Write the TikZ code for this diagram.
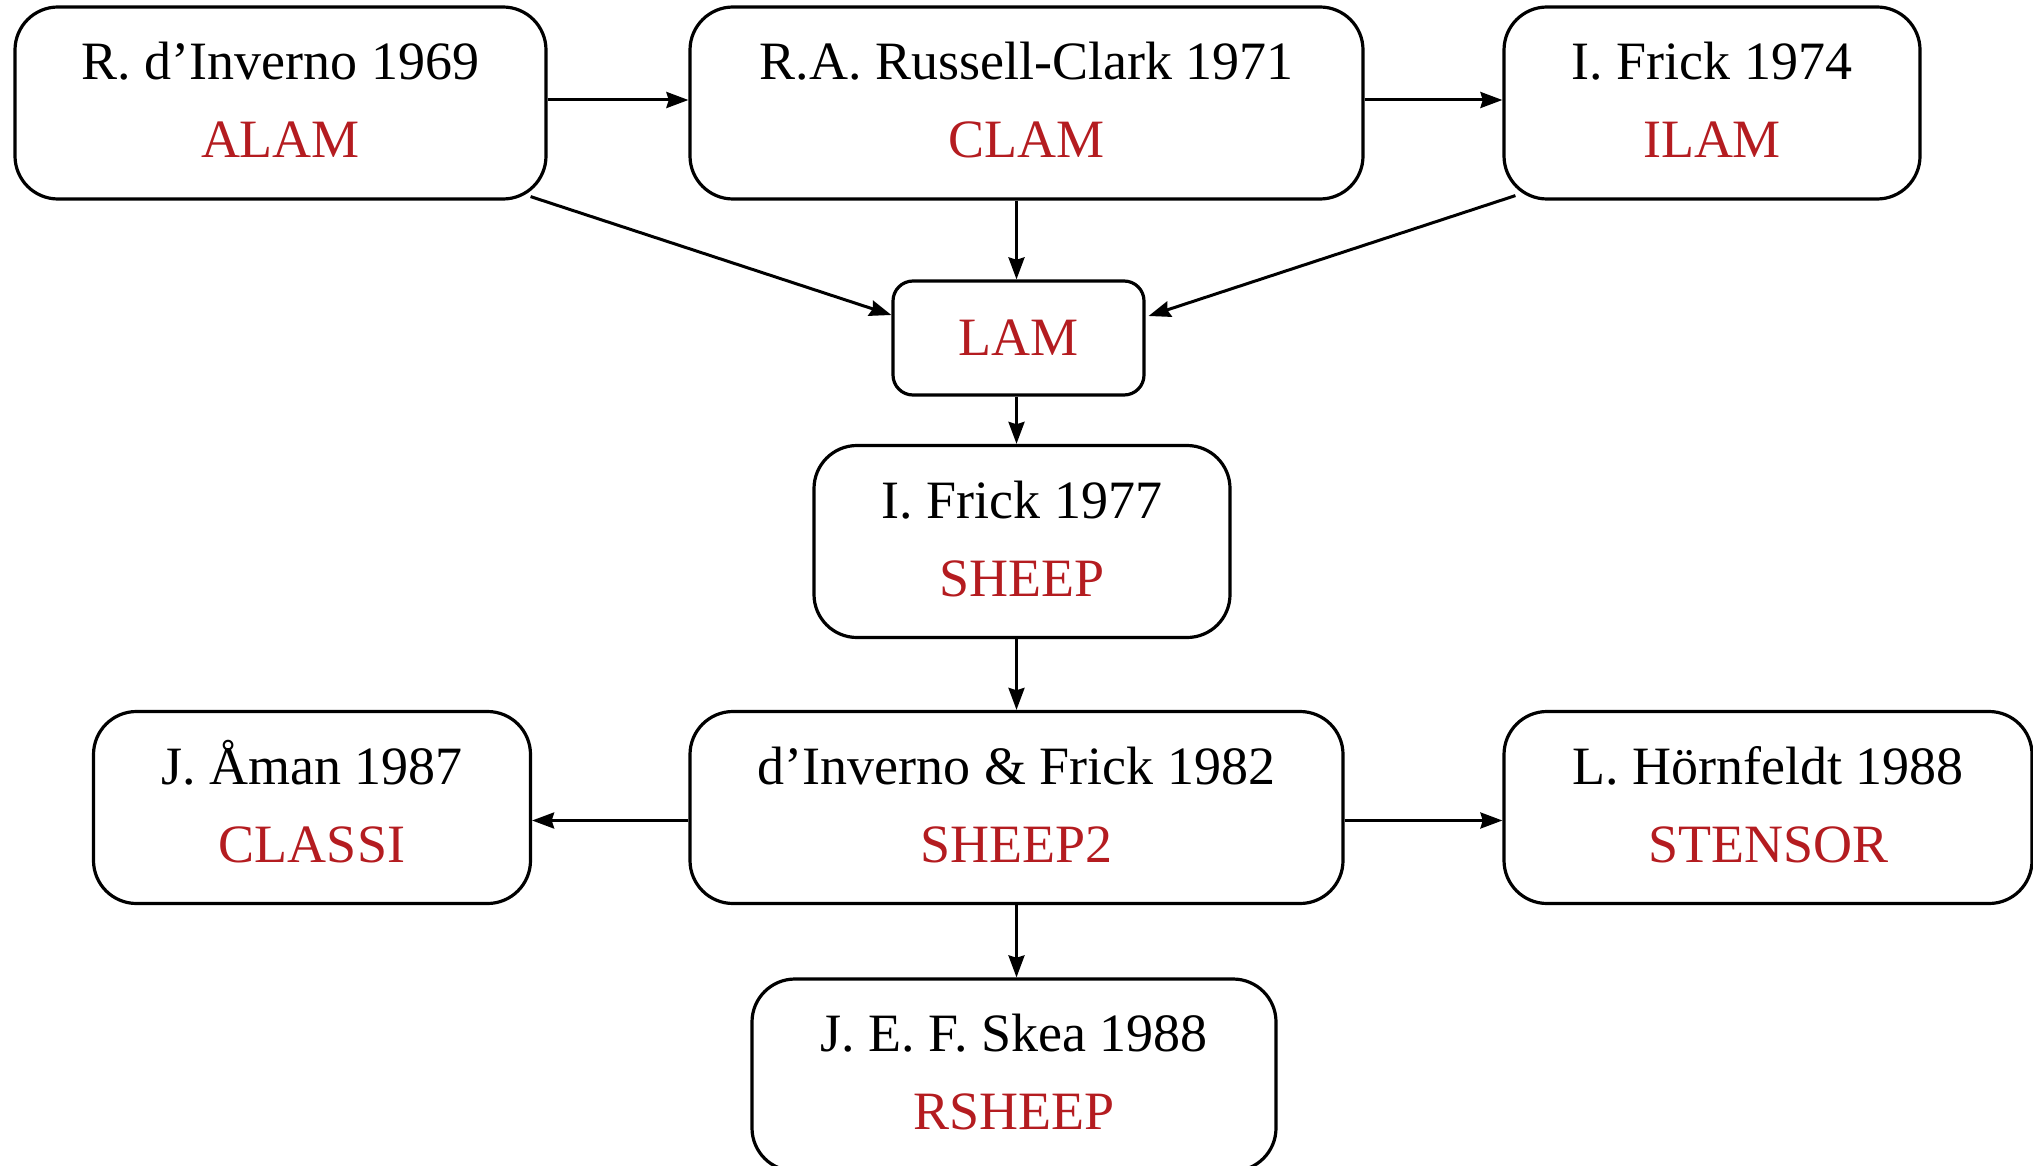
\documentclass[tikz,border=0pt]{standalone}
\usepackage{fontspec}
\setmainfont{Liberation Serif}
\usetikzlibrary{arrows.meta,calc}
\definecolor{progred}{RGB}{180,28,32}
\tikzset{
  box/.style={draw, line width=1.6pt, rounded corners=21.5pt, align=center,
    font=\fontsize{27}{39}\selectfont, minimum height=96pt, inner sep=0pt},
  smallbox/.style={draw, line width=1.6pt, rounded corners=10pt,
    font=\fontsize{27}{39}\selectfont, minimum height=57pt, inner sep=0pt, text=progred},
  conn/.style={-{Stealth[length=11pt,width=8pt,inset=1.2pt]}, line width=1.5pt},
}
\newcommand{\prog}[1]{\textcolor{progred}{#1}}
\begin{document}
\begin{tikzpicture}[x=0.5pt,y=-0.5pt]
\useasboundingbox (0,0) rectangle (2033,1166);
\clip (0,0) rectangle (2033,1166);
\node[box, minimum width=265.5pt] (alam) at (280.5,103) {\strut R. d’Inverno 1969\\\strut\prog{ALAM}};
\node[box, minimum width=336.5pt] (clam) at (1026.5,103) {\strut R.A. Russell-Clark 1971\\\strut\prog{CLAM}};
\node[box, minimum width=208pt] (ilam) at (1712,103) {\strut I. Frick 1974\\\strut\prog{ILAM}};
\node[smallbox, minimum width=125.5pt] (lam) at (1018.5,338) {LAM};
\node[box, minimum width=208pt] (sheep) at (1022,541.5) {\strut I. Frick 1977\\\strut\prog{SHEEP}};
\node[box, minimum width=326.5pt] (sheep2) at (1016.5,807.5) {\strut d’Inverno \& Frick 1982\\\strut\prog{SHEEP2}};
\node[box, minimum width=218.5pt] (classi) at (312,807.5) {\strut J. Åman 1987\\\strut\prog{CLASSI}};
\node[box, minimum width=264pt] (stensor) at (1768,807.5) {\strut L. Hörnfeldt 1988\\\strut\prog{STENSOR}};
\node[box, minimum width=262pt] (rsheep) at (1014,1075) {\strut J. E. F. Skea 1988\\\strut\prog{RSHEEP}};

\draw[conn] ($(alam.east)+(0,-3)$) -- ($(clam.west)+(0,-3)$);
\draw[conn] ($(clam.east)+(0,-3)$) -- ($(ilam.west)+(0,-3)$);
\draw[conn] ($(alam.south east)+(-17,-4)$) -- ($(lam.west)+(0,-23)$);
\draw[conn] ($(ilam.south west)+(13,-5)$) -- ($(lam.east)+(3,-22)$);
\draw[conn] (clam.south -| sheep2) -- (lam.north -| sheep2);
\draw[conn] (lam.south -| sheep2) -- (sheep.north -| sheep2);
\draw[conn] (sheep.south -| sheep2) -- (sheep2.north);
\draw[conn] (sheep2.south) -- (rsheep.north -| sheep2);
\draw[conn] ($(sheep2.west)+(0,13)$) -- ($(classi.east)+(0,13)$);
\draw[conn] ($(sheep2.east)+(0,13)$) -- ($(stensor.west)+(0,13)$);
\end{tikzpicture}
\end{document}
